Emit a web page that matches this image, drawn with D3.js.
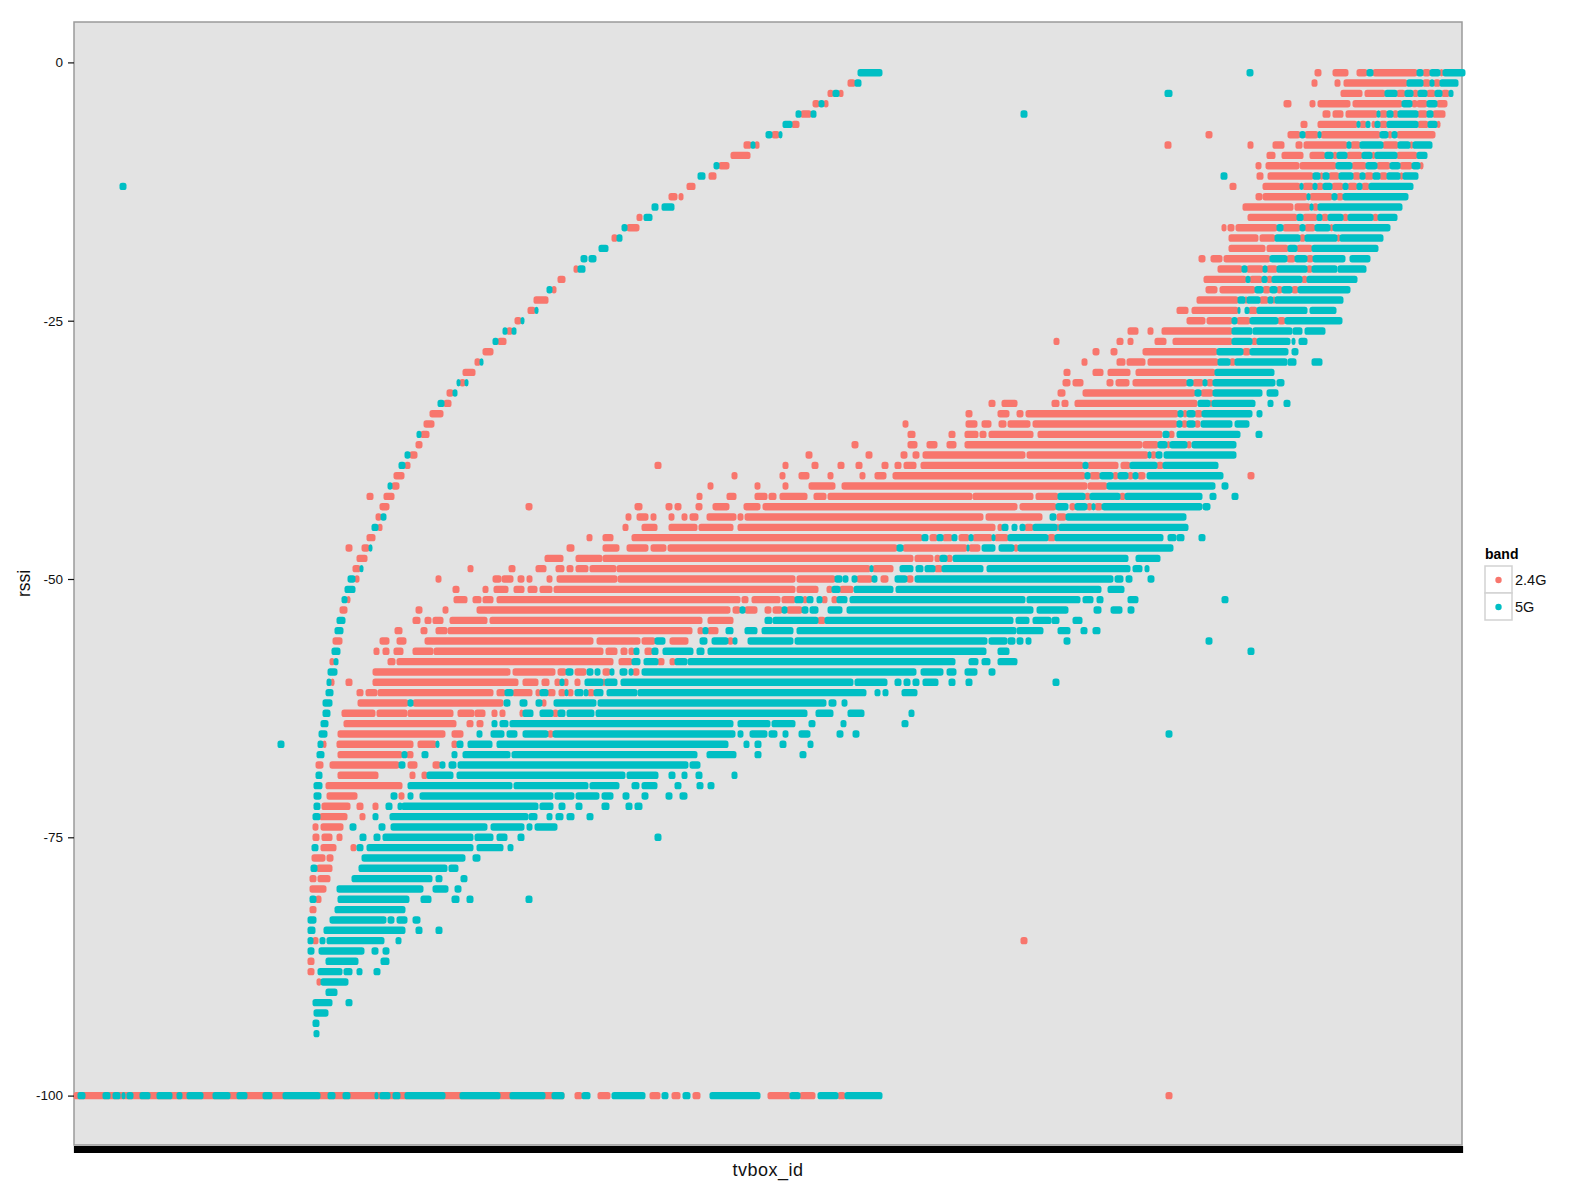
<!DOCTYPE html>
<html>
<head>
<title>rssi by tvbox</title>
<script src="https://d3js.org/d3.v7.min.js"></script>
<style>
  body { margin: 0; background: #fff; }
  text { font-family: "Liberation Sans", Arial, sans-serif; }
</style>
</head>
<body>
<div id="chart"></div>
<script>
// each row: rssi, then start,end pairs of tvbox rank where the points run together
var band24Rows = [
[-1,1241,1247,1259,1274,1283,1293,1299,1343,1349,1356,1366,1369],
[-2,774,781,1238,1243,1261,1266,1270,1333,1349,1356,1360,1366],
[-3,754,759,765,769,1267,1288,1291,1311,1323,1331,1339,1344,1353,1361,1368,1375],
[-4,739,745,750,754,1210,1217,1236,1241,1244,1276,1279,1328,1338,1343,1343,1353,1363,1373],
[-5,727,737,1249,1256,1259,1269,1272,1303,1306,1313,1319,1324,1344,1353,1359,1371],
[-6,718,725,1227,1233,1244,1283,1286,1292,1298,1301,1306,1313,1344,1354,1363,1366],
[-7,698,705,1132,1138,1214,1226,1231,1244,1247,1306,1314,1318,1323,1361],
[-8,670,677,681,685,1091,1097,1174,1179,1199,1210,1222,1228,1230,1273,1277,1286,1309,1324,1336,1339],
[-9,657,676,1193,1201,1208,1229,1236,1251,1259,1263,1273,1288,1298,1301,1323,1343],
[-10,645,655,1182,1187,1192,1225,1226,1262,1278,1292,1303,1316,1326,1338,1346,1349],
[-11,635,642,1183,1189,1194,1239,1246,1249,1255,1265,1279,1286,1291,1299,1306,1313,1326,1329],
[-12,613,621,1156,1162,1189,1226,1229,1239,1243,1249,1258,1269,1274,1283,1288,1295],
[-13,595,603,605,609,1182,1188,1189,1233,1236,1258,1263,1269],
[-14,1169,1219,1221,1236,1239,1244],
[-15,563,568,1174,1223,1229,1243,1248,1254,1269,1274,1299,1304],
[-16,553,565,1148,1152,1154,1160,1162,1203,1209,1226,1231,1241,1256,1259],
[-17,538,543,1155,1184,1186,1201,1226,1231,1263,1266],
[-18,1155,1191,1193,1214,1223,1238],
[-19,1125,1131,1137,1148,1150,1196,1213,1221,1233,1239],
[-20,500,504,1144,1168,1173,1189,1193,1203,1233,1238],
[-21,484,491,1130,1172,1176,1188,1193,1198,1228,1233],
[-22,478,482,1132,1143,1146,1181,1189,1196,1203,1208,1218,1224],
[-23,460,474,1123,1164,1171,1173,1186,1194,1199,1201],
[-24,454,461,1103,1114,1118,1164,1175,1183],
[-25,441,447,1113,1131,1133,1158,1163,1176,1204,1211],
[-26,433,438,1054,1064,1074,1079,1088,1158],
[-27,424,432,980,985,1043,1049,1054,1059,1081,1092,1099,1158,1178,1183],
[-28,409,419,1019,1025,1037,1043,1069,1143,1169,1176],
[-29,401,406,1008,1013,1043,1051,1053,1071,1074,1144,1156,1161],
[-30,389,401,990,996,1019,1029,1034,1056,1062,1141],
[-31,386,391,989,996,999,1009,1033,1039,1042,1055,1059,1113,1119,1129,1133,1139],
[-32,373,379,984,991,1009,1121,1127,1139],
[-33,370,377,915,921,928,943,978,985,988,994,1001,1123,1136,1138],
[-34,356,369,892,898,924,935,943,949,952,1104,1109,1113,1121,1128],
[-35,350,360,829,834,892,903,908,917,925,932,934,956,959,1103,1108,1113,1121,1126],
[-36,347,355,834,841,875,881,891,904,906,912,915,959,964,1088,1095,1100],
[-37,342,348,778,784,834,843,853,863,873,882,891,1068,1069,1084,1093,1096,1113,1117],
[-38,336,343,732,738,792,798,827,833,839,845,849,951,953,1074,1077,1082],
[-39,331,336,581,587,709,714,738,744,764,770,782,788,808,814,821,827,830,842,847,1009,1014,1044,1047,1056,1083,1089],
[-40,320,330,658,663,706,711,725,735,754,759,786,791,801,812,819,1011,1016,1026,1039,1044,1054,1059,1064,1071,1174,1180],
[-41,318,325,634,639,681,686,709,714,735,761,768,1013,1014,1033],
[-42,293,299,310,320,623,628,653,662,681,693,695,702,706,733,740,752,754,898,899,959,962,984,1011,1016,1046,1051],
[-43,306,315,452,458,561,568,592,598,601,607,622,628,639,655,670,686,689,943,946,982,996,1001,1013,1018,1021,1028],
[-44,302,307,552,557,563,574,577,582,595,600,608,613,616,624,633,662,664,669,671,909,912,968,983,992],
[-45,304,308,549,554,568,583,595,623,625,659,664,921,924,928,951,959,983,985],
[-46,293,301,513,518,529,539,558,848,856,863,869,878,885,895,899,918,921,934,974,981],
[-47,272,278,288,295,493,500,529,545,553,574,577,592,594,823,829,893,895,906,940,944],
[-48,283,293,471,489,502,528,529,839,841,859,861,866,873,878],
[-49,279,286,394,399,435,441,462,472,482,490,493,499,502,514,516,542,543,796,799,819,861,868],
[-50,281,285,362,367,419,427,428,439,444,450,453,458,473,478,483,543,544,721,723,761,783,798,807,814,833,839],
[-51,379,385,409,414,420,434,440,450,454,463,466,478,480,721,723,744,753,758,766,779],
[-52,273,276,380,393,399,407,409,419,423,666,668,674,678,706,708,721,729,733,748,753,758,763],
[-53,266,273,342,348,369,374,403,656,659,666,671,683,691,697,699,708,713,728],
[-54,339,346,351,357,359,369,376,413,416,628,634,659,744,751],
[-55,321,328,347,353,362,373,374,618,624,629,634,644],
[-56,259,268,306,315,323,332,351,519,523,566,568,581,596,614,654,659],
[-57,300,305,309,315,320,329,339,359,360,529,532,543,547,553,555,560,571,578],
[-58,256,260,314,321,323,539,545,558,584,590,596,601],
[-59,299,436,439,481,484,492,501,512,529,536,559,565],
[-60,257,260,272,278,299,444,449,464,468,475,481,486,490,494,501,506,529,531],
[-61,283,289,292,303,304,419,423,431,439,458,462,466,474,481,485,491,494,499,514,520],
[-62,284,334,339,429,468,472],
[-63,268,301,303,333,334,379,384,400,401,411,418,423,426,431,446,449,479,484],
[-64,270,382,393,399,403,409],
[-65,264,371,378,389,474,479],
[-66,249,252,263,339,344,362,378,383],
[-67,264,328,333,339],
[-68,242,249,256,325,334,343,359,366],
[-69,264,304,336,341,348,353],
[-70,252,328],
[-71,253,283,325,330],
[-72,248,276,283,289,299,304],
[-73,246,273,286,291],
[-74,239,244,247,269],
[-75,239,245,248,258,263,268],
[-76,247,262,277,282],
[-77,238,251,253,259],
[-78,243,258],
[-79,236,242,244,256],
[-80,236,252],
[-81,242,247],
[-82,236,242],
[-85,239,244,947,953],
[-87,234,240],
[-88,234,240],
[-89,243,247],
[-100,0,490,501,508,524,536,576,586,598,606,619,626,694,716,726,741,764,771,1092,1098]
];

var band5Rows = [
[-1,784,808,1173,1179,1293,1299,1343,1349,1356,1366,1369,1391],
[-2,781,787,1333,1349,1356,1360,1366,1384],
[-3,759,765,1091,1098,1311,1323,1331,1339,1344,1353,1361,1368,1375,1379],
[-4,745,750,1328,1338,1353,1363],
[-5,722,727,737,742,947,953,1303,1306,1313,1319,1324,1344,1353,1359],
[-6,709,718,1283,1286,1292,1296,1301,1306,1313,1344,1354,1363],
[-7,692,698,705,708,1226,1231,1244,1247,1306,1314,1318,1323],
[-8,677,681,1273,1277,1286,1309,1324,1336,1339,1358],
[-9,1251,1259,1263,1273,1288,1298,1301,1323,1343,1353],
[-10,640,645,1262,1278,1292,1303,1316,1326,1338,1346],
[-11,624,631,1147,1153,1239,1246,1249,1255,1265,1279,1286,1291,1299,1306,1313,1326,1329,1344],
[-12,46,52,1226,1229,1239,1243,1249,1258,1269,1274,1283,1288,1295,1339],
[-13,1233,1236,1258,1263,1269,1334],
[-14,578,584,588,600,1236,1239,1244,1328],
[-15,570,578,1223,1229,1243,1248,1254,1269,1274,1299,1304,1323],
[-16,548,553,1203,1209,1226,1231,1241,1256,1259,1316],
[-17,543,548,1201,1226,1231,1263,1266,1309],
[-18,525,534,1214,1223,1238,1304],
[-19,507,513,515,522,1196,1213,1221,1233,1239,1271,1276,1296],
[-20,504,511,1168,1173,1189,1193,1203,1233,1238,1263,1264,1292],
[-21,1172,1176,1188,1193,1198,1228,1233,1283],
[-22,473,478,1181,1189,1196,1203,1208,1218,1224,1276],
[-23,1164,1171,1173,1186,1194,1199,1201,1269],
[-24,461,464,1164,1166,1171,1175,1183,1233,1236,1262],
[-25,447,450,1158,1163,1176,1204,1211,1268],
[-26,429,433,438,442,1158,1178,1179,1218,1219,1228,1231,1251],
[-27,419,424,1158,1178,1183,1216,1218,1221,1225,1233],
[-28,1143,1169,1176,1214,1218,1224],
[-29,406,409,1144,1156,1161,1213,1214,1222,1238,1248],
[-30,1141,1200],
[-31,383,386,391,394,1113,1119,1129,1133,1139,1201,1203,1210],
[-32,379,383,1121,1127,1139,1188,1193,1204],
[-33,364,370,1124,1136,1138,1181,1194,1199,1210,1216],
[-34,1104,1109,1113,1121,1128,1178,1183,1188],
[-35,1103,1108,1113,1121,1127,1158,1161,1175],
[-36,343,347,1089,1095,1103,1166,1182,1188],
[-37,1084,1093,1096,1113,1118,1162],
[-38,331,336,1074,1077,1082,1088,1090,1162],
[-39,325,331,1009,1014,1056,1083,1089,1144],
[-40,1011,1016,1026,1039,1044,1054,1059,1064,1073,1149],
[-41,314,318,1033,1141,1148,1154],
[-42,984,1011,1016,1046,1051,1128,1136,1142,1158,1164],
[-43,982,994,1001,1013,1018,1021,1028,1128,1129,1136],
[-44,307,312,976,982,992,1112],
[-45,298,304,928,934,938,943,946,951,959,983,985,1114],
[-46,848,854,863,869,878,883,895,899,918,921,934,974,981,1089,1094,1102,1103,1110,1125,1131],
[-47,295,298,823,829,893,895,908,921,925,940,944,1099],
[-48,866,873,879,1054,1062,1086],
[-49,286,289,796,799,826,839,842,849,851,861,868,909,913,1056,1059,1068,1071,1075],
[-50,274,281,761,768,769,774,778,783,798,803,821,833,841,1039,1041,1049,1052,1058,1074,1080],
[-51,271,281,758,766,780,819,822,1027,1034,1050],
[-52,268,273,721,729,733,739,743,748,763,773,776,951,953,1006,1009,1019,1023,1029,1054,1064,1148,1154],
[-53,666,671,708,713,728,734,736,744,754,768,773,959,963,994,1020,1027,1037,1048,1054,1060],
[-54,263,271,691,698,699,744,751,939,942,955,959,977,978,985,999,1008],
[-55,261,269,629,634,652,659,671,683,688,719,723,942,943,969,984,996,1007,1013,1019,1026],
[-56,581,591,626,633,638,654,659,663,674,719,721,913,915,933,934,941,943,949,952,957,990,996,1132,1138],
[-57,258,266,560,565,578,584,589,619,623,630,634,912,924,935,1174,1180],
[-58,260,264,558,566,570,584,601,613,614,881,895,904,908,916,924,943],
[-59,254,263,492,499,513,519,521,526,536,540,546,553,555,559,568,842,847,869,873,882,891,903,915,921],
[-60,253,257,486,490,511,529,531,543,547,779,781,813,821,827,830,836,839,845,849,864,875,881,892,898,979,985],
[-61,252,259,431,439,466,474,491,494,501,509,510,514,520,529,533,563,564,792,801,806,809,814,828,843],
[-62,249,258,334,339,430,436,446,453,462,468,480,522,524,752,755,762,768,773],
[-63,249,256,449,459,466,479,484,491,493,520,522,733,742,759,774,790,835,840],
[-64,247,254,418,423,426,434,436,659,664,696,698,721,735,741,767,772,828,834],
[-65,245,253,403,408,417,430,433,443,449,474,479,661,664,669,676,693,695,703,709,714,725,736,763,769,779,785,1092,1098],
[-66,204,210,244,249,362,365,383,389,394,418,423,654,670,675,681,687,706,712,734,739],
[-67,243,250,328,333,348,354,378,383,389,436,438,623,633,662,681,687,726,732],
[-68,325,331,366,371,375,382,384,614,616,626],
[-69,242,248,353,379,383,551,553,584,595,601,608,613,622,628,658,663],
[-70,240,248,334,438,440,514,516,545,558,565,568,583,601,607,623,629,634,640],
[-71,240,247,317,323,334,339,346,479,481,500,502,525,528,539,549,555,568,574,592,598,606,613],
[-72,240,246,312,318,324,328,328,464,466,479,485,491,502,508,528,535,552,558,561,568],
[-73,239,246,299,304,316,454,455,463,473,478,482,489,493,500,513,519],
[-74,276,282,305,311,317,413,417,450,453,458,461,483],
[-75,286,292,300,306,309,399,401,419,423,433,444,450,581,587],
[-76,238,244,283,289,293,399,403,429,434,439],
[-77,288,391,399,406],
[-78,237,243,285,373,375,384],
[-79,278,358,362,368,387,393],
[-80,263,349,359,374,381,387],
[-81,236,242,264,335,347,357,378,385,393,399,452,458],
[-82,261,331],
[-83,234,242,256,312,314,320,323,333,339,346],
[-84,234,241,250,331,342,348,362,368],
[-85,234,239,246,251,253,310,322,327],
[-86,234,240,245,290,298,304,309,315],
[-87,252,284,307,315],
[-88,244,268,270,278,283,288,300,306],
[-89,247,274],
[-90,252,263],
[-91,239,258,272,278],
[-92,240,254],
[-93,239,245],
[-94,240,245],
[-100,4,11,29,36,39,46,48,51,53,59,66,76,83,98,103,108,113,129,139,156,163,173,189,198,209,246,254,261,269,276,301,304,306,316,319,326,331,371,386,426,436,471,478,490,508,516,538,571,588,594,609,616,636,686,716,726,744,764,771,808]
];

var bands = ["2.4G", "5G"];
var bandColors = ["#F8766D", "#00BFC4"];
var rssiTicks = [0, -25, -50, -75, -100];
var rankMax = 1388; // one tick per tvbox on the bottom axis

var width = 1590, height = 1194;
var panel = { left: 74, right: 1462, top: 22, bottom: 1145 };

var svg = d3.select("#chart").append("svg")
    .attr("width", width)
    .attr("height", height);

var x = d3.scaleLinear().domain([0, rankMax]).range([panel.left, panel.right]);
var y = d3.scaleLinear().domain([-100, 0]).range([1095.6, 62.4]);

svg.append("rect")
    .attr("x", panel.left)
    .attr("y", panel.top)
    .attr("width", panel.right - panel.left)
    .attr("height", panel.bottom - panel.top)
    .attr("fill", "#E3E3E3")
    .attr("stroke", "#9a9a9a")
    .attr("stroke-width", 1.5);

// turn "rssi, start, end, start, end" rows into runs
function toRuns(rows) {
    var out = [];
    rows.forEach(function(row) {
        for (var i = 1; i < row.length; i += 2) {
            out.push({ rssi: row[0], from: row[i], to: row[i + 1] });
        }
    });
    return out;
}

[band24Rows, band5Rows].forEach(function(rows, i) {
    svg.append("g").selectAll("rect")
        .data(toRuns(rows))
        .enter().append("rect")
        .attr("x", function(d) { return x(d.from) - 0.5; })
        .attr("y", function(d) { return y(d.rssi) - 3.7; })
        .attr("width", function(d) { return x(d.to) - x(d.from) + 1; })
        .attr("height", 7.4)
        .attr("rx", 2.6)
        .attr("fill", bandColors[i]);
});

var yAxis = d3.axisLeft(y)
    .tickValues(rssiTicks)
    .tickSize(6)
    .tickPadding(5)
    .tickFormat(function(d) { return String(d); });

var yG = svg.append("g")
    .attr("transform", "translate(" + panel.left + ",0)")
    .call(yAxis);
yG.select(".domain").remove();
yG.selectAll("line").attr("stroke", "#111").attr("stroke-width", 1.2);
yG.selectAll("text").attr("font-size", 13.5).attr("fill", "#111")
    .attr("font-family", "Liberation Sans");

// every tvbox gets its own tick, they run together into the black band
var xAxis = d3.axisBottom(x)
    .tickValues(d3.range(0, rankMax + 1))
    .tickSize(7)
    .tickFormat("");

var xG = svg.append("g")
    .attr("transform", "translate(0," + (panel.bottom + 1) + ")")
    .call(xAxis);
xG.select(".domain").remove();
xG.selectAll("line").attr("stroke", "#000").attr("stroke-width", 1.2);

svg.append("text")
    .attr("x", (panel.left + panel.right) / 2)
    .attr("y", 1176)
    .attr("text-anchor", "middle")
    .attr("font-size", 18)
    .attr("letter-spacing", 0.5)
    .attr("fill", "#111")
    .text("tvbox_id");

svg.append("text")
    .attr("transform", "translate(30," + (panel.top + panel.bottom) / 2 + ") rotate(-90)")
    .attr("text-anchor", "middle")
    .attr("font-size", 17.5)
    .attr("fill", "#111")
    .text("rssi");

// legend
var legend = svg.append("g").attr("transform", "translate(1485,0)");
legend.append("text")
    .attr("x", 0)
    .attr("y", 559)
    .attr("font-size", 14)
    .attr("font-weight", "bold")
    .attr("fill", "#000")
    .text("band");

bands.forEach(function(b, i) {
    var top = 566 + i * 27;
    legend.append("rect")
        .attr("x", 0)
        .attr("y", top)
        .attr("width", 27)
        .attr("height", 27)
        .attr("fill", "#fff")
        .attr("stroke", "#d2d2d2")
        .attr("stroke-width", 1.5);
    legend.append("circle")
        .attr("cx", 13.5)
        .attr("cy", top + 14)
        .attr("r", 3.2)
        .attr("fill", bandColors[i]);
    legend.append("text")
        .attr("x", 30)
        .attr("y", top + 19)
        .attr("font-size", 14.5)
        .attr("fill", "#111")
        .text(b);
});
</script>
</body>
</html>
